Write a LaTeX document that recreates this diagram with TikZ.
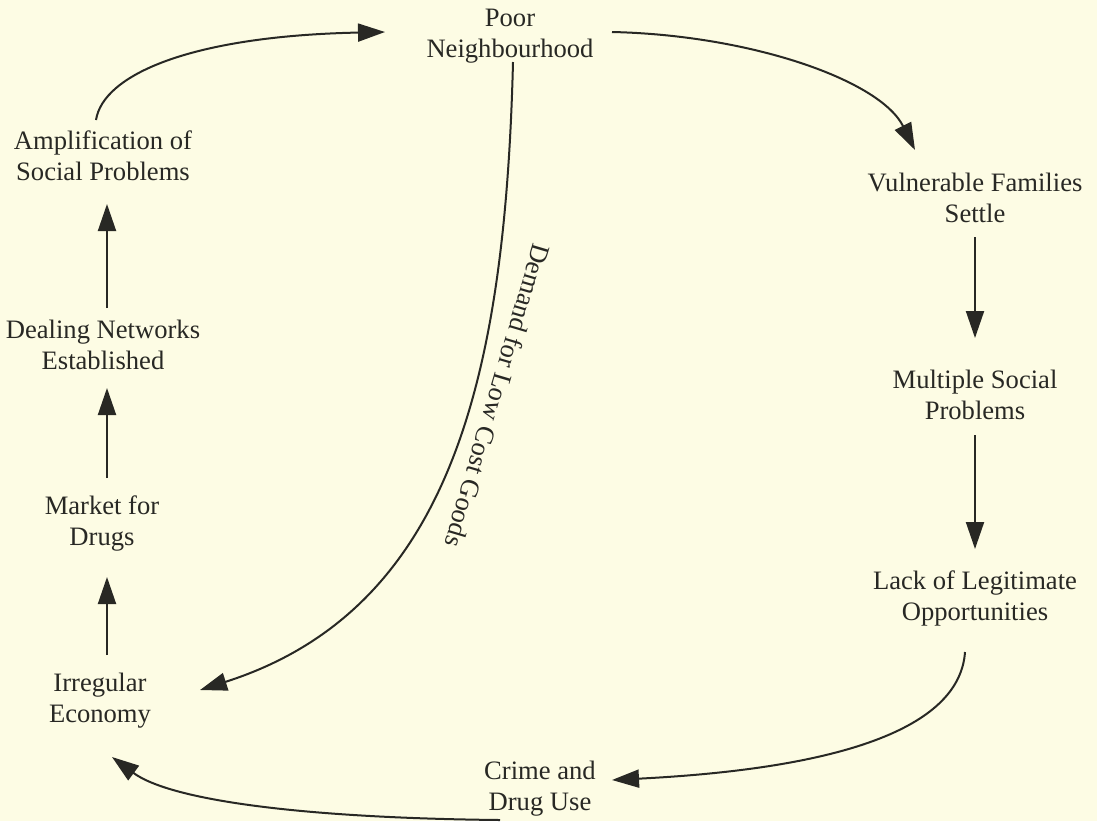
\documentclass[tikz,border=0pt]{standalone}
\usepackage{fontspec}
\setmainfont{Liberation Serif}
\usetikzlibrary{arrows.meta,calc}
\definecolor{paper}{RGB}{253,252,228}
\definecolor{ink}{RGB}{40,40,36}
\begin{document}
\begin{tikzpicture}[x=0.5pt,y=-0.5pt,
  lbl/.style={align=center,inner sep=0pt,text=ink,
    font=\fontsize{13.3pt}{15.5pt}\selectfont},
  arr/.style={draw=ink,line width=1pt,
    -{Triangle[length=13.5pt,width=9pt]}}]
% page
\fill[paper] (0,0) rectangle (1097,821);
\useasboundingbox (0,0) rectangle (1097,821);

% factors
\node[lbl] (poor)  at (510,36)  {Poor\\Neighbourhood};
\node[lbl] (vul)   at (975,198) {Vulnerable Families\\Settle};
\node[lbl] (mult)  at (975,395) {Multiple Social\\Problems};
\node[lbl] (lack)  at (975,598) {Lack of Legitimate\\Opportunities};
\node[lbl] (crime) at (540,789) {Crime and\\Drug Use};
\node[lbl] (irr)   at (100,701) {Irregular\\Economy};
\node[lbl] (mkt)   at (102,523) {Market for\\Drugs};
\node[lbl] (deal)  at (103,345) {Dealing Networks\\Established};
\node[lbl] (amp)   at (103,156) {Amplification of\\Social Problems};

% outer loop
\draw[arr] ($(amp)+(-7,-36)$) .. controls (103,75) and (190,36) .. ($(poor)+(-125,-4)$);
\draw[arr] ($(poor)+(102,-4)$) .. controls (750,35) and (880,80) .. ($(vul)+(-60,-48)$);
\draw[arr] ($(vul)+(0,39)$) -- ($(mult)+(0,-57)$);
\draw[arr] ($(mult)+(0,40)$) -- ($(lack)+(0,-49)$);
\draw[arr] ($(lack)+(-10,54)$) .. controls (960,725) and (850,768) .. ($(crime)+(72,-9)$);
\draw[arr] ($(crime)+(-40,31)$) .. controls (300,818) and (170,800) .. ($(irr)+(12,56)$);
\draw[arr] ($(irr)+(7,-46)$) -- ($(mkt)+(5,54)$);
\draw[arr] ($(mkt)+(5,-45)$) -- ($(deal)+(4,43)$);
\draw[arr] ($(deal)+(4,-37)$) -- ($(amp)+(4,48)$);

% inner link and its label
\draw[arr] ($(poor)+(3,26)$) .. controls (505,380) and (450,610) .. ($(irr)+(100,-11)$);
\node[lbl,rotate=-106.5] (demand) at (498,396) {Demand for Low Cost Goods};
\end{tikzpicture}
\end{document}
